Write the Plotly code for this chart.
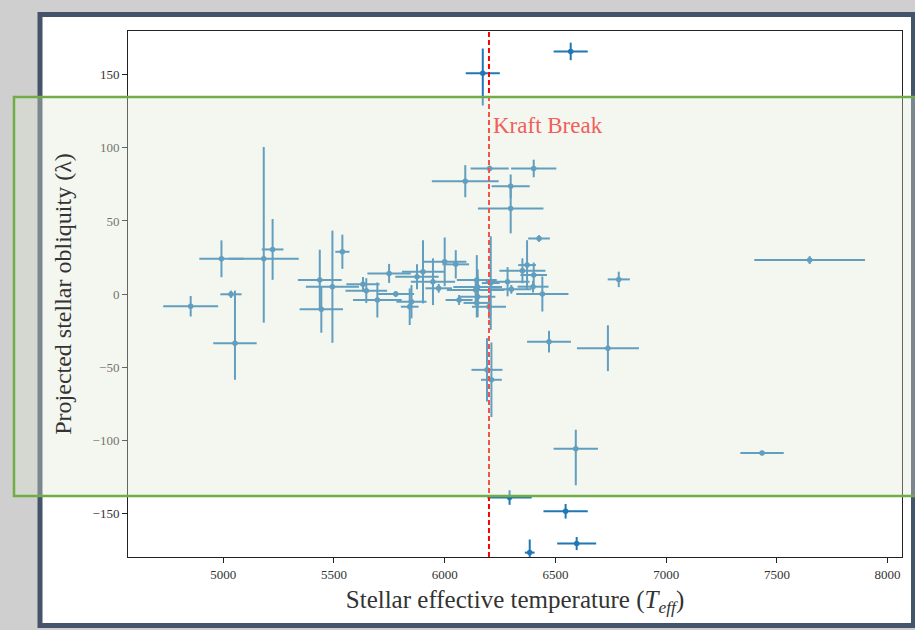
import plotly.graph_objects as go

# Stellar effective temperature (K) and its uncertainty
teff = [6172, 6569, 6293, 6546, 6596, 6384,
        4853, 4992, 5183, 5223, 5035, 5053,
        5436, 5443, 5493, 5538, 5631, 5646, 5696, 5749, 5779, 5850, 5842,
        5875, 5902, 5947, 5973, 6000, 6050, 6065,
        6145, 6149, 6149, 6145, 6140,
        6203, 6402, 6093, 6298, 6298, 6426,
        6191, 6211, 6208, 6200,
        6372, 6351, 6402, 6284, 6399, 6301, 6441,
        6786, 6471, 6737, 7648, 6592, 7433]
teff_err = [77, 77, 100, 100, 88, 22,
            124, 100, 158, 49, 48, 98,
            99, 98, 120, 32, 75, 94, 110, 98, 83, 68, 40,
            98, 95, 100, 60, 98, 60, 61,
            90, 110, 80, 60, 130,
            86, 102, 151, 86, 148, 49,
            70, 47, 40, 77,
            40, 104, 60, 99, 70, 90, 118,
            50, 99, 140, 250, 100, 98]

# Projected stellar obliquity (deg) with upper / lower uncertainties
lam = [151, 166, -139.3, -148.7, -170.8, -177,
       -8.4, 24.1, 24.1, 30.5, -0.2, -33.7,
       9.6, -10.5, 5, 28.9, 6.6, 2.3, -4.1, 14.1, 0, -5.3, -8.7,
       11.8, 15.2, 8.4, 3.9, 22, 20.3, -4.1,
       9.6, 4.8, -1.8, -6.1, 2.7,
       85.9, 85.9, 77.2, 73.8, 58.5, 38,
       -51.9, -58.7, 7.5, -8.7,
       19.8, 15.9, 13, 8.4, 5, 3.2, 0,
       10, -32.6, -37.1, 23.2, -105.9, -108.8]
lam_err_up = [17, 6, 5, 5, 4.5, 9,
              7, 12.6, 76.5, 20.8, 2.5, 36,
              20.7, 16, 38.4, 11.7, 5, 8.5, 12, 6.5, 2, 11.4, 12.5,
              8.5, 21.6, 16, 3, 16.7, 9.7, 3.4,
              17, 12, 14, 10, 8,
              2, 6, 11, 8, 17, 2.3,
              21.7, 25.5, 32, 8,
              17, 8.5, 8.5, 10, 4, 3, 12,
              5.3, 7.4, 15.7, 2.7, 13, 1.5]
lam_err_down = [22, 6, 5, 5, 4.5, 9,
                7, 12.6, 43.7, 20.8, 2.5, 25,
                20.7, 16, 38.4, 11.7, 5, 8.5, 12, 6.5, 2, 11.4, 12.5,
                8.5, 21.6, 16, 3, 16.7, 9.7, 3.4,
                17, 12, 14, 10, 8,
                2, 6, 11, 8, 17, 2.3,
                21.7, 25.5, 32, 8,
                17, 8.5, 8.5, 10, 4, 3, 12,
                5.3, 7.4, 15.7, 2.7, 25, 1.5]

kraft_break = 6200
x_ticks = [5000, 5500, 6000, 6500, 7000, 7500, 8000]
y_ticks = [-150, -100, -50, 0, 50, 100, 150]

W, H = 915, 630
ML, MR, MT, MB = 128, 13, 31, 73
PW, PH = W - ML - MR, H - MT - MB


def px(x):
    return (x - ML) / PW


def py(y):
    return (H - MB - y) / PH


BLUE = "#1f77b4"
SERIF = "Liberation Serif, DejaVu Serif, serif"

fig = go.Figure()
fig.add_trace(go.Scatter(
    x=teff, y=lam, mode="markers",
    marker=dict(color=BLUE, size=5.5),
    error_x=dict(type="data", array=teff_err, color=BLUE, thickness=2, width=0),
    error_y=dict(type="data", symmetric=False, array=lam_err_up,
                 arrayminus=lam_err_down, color=BLUE, thickness=2, width=0),
    showlegend=False, hoverinfo="skip",
))

shapes = [
    # white card with dark border
    dict(type="rect", xref="paper", yref="paper", layer="below",
         x0=px(40), x1=px(913.5), y0=py(625.5), y1=py(14.5),
         fillcolor="white", line=dict(color="#44546a", width=5)),
    # Kraft break
    dict(type="line", xref="x", yref="paper", layer="above",
         x0=kraft_break, x1=kraft_break, y0=0, y1=1,
         line=dict(color="red", width=2, dash="5px,3px")),
    # translucent highlight band
    dict(type="rect", xref="paper", yref="paper", layer="above",
         x0=px(14), x1=px(925), y0=py(496), y1=py(97),
         fillcolor="rgba(224,232,212,0.35)", line=dict(color="#70ad47", width=2.5)),
]

fig.update_layout(
    width=W, height=H,
    margin=dict(l=ML, r=MR, t=MT, b=MB),
    paper_bgcolor="#d0cfcf", plot_bgcolor="white",
    shapes=shapes,
    annotations=[dict(x=kraft_break + 10, y=115.4, xref="x", yref="y",
                      text="Kraft Break", showarrow=False, xanchor="left",
                      font=dict(family=SERIF, size=23, color="rgb(240,95,90)"))],
    font=dict(family=SERIF, color="#222"),
)
fig.update_xaxes(
    range=[4570, 8065], tickvals=x_ticks, ticks="outside", ticklen=5,
    tickcolor="#222", showline=True, linecolor="#222", linewidth=1, mirror=True,
    showgrid=False, zeroline=False, tickfont=dict(size=13, color="#333"),
    title=dict(text="Stellar effective temperature (<i>T</i><sub><i>eff</i></sub>)",
               font=dict(size=25, color="#333"), standoff=9),
)
fig.update_yaxes(
    range=[-180, 180], tickvals=y_ticks, ticks="outside", ticklen=5,
    tickcolor="#222", showline=True, linecolor="#222", linewidth=1, mirror=True,
    showgrid=False, zeroline=False, tickfont=dict(size=13, color="#333"),
    title=dict(text="Projected stellar obliquity (λ)",
               font=dict(size=24, color="#333"), standoff=14),
)

fig.write_html("out.html", config={"displayModeBar": False})
